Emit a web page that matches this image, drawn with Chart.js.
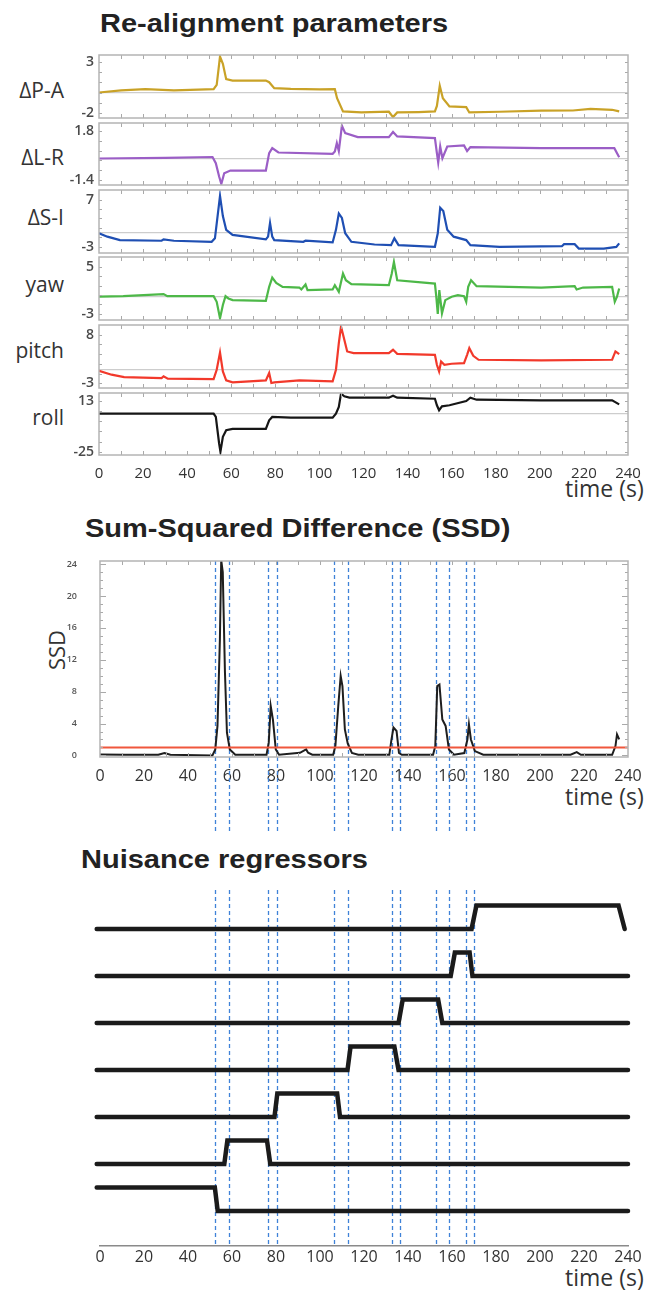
<!DOCTYPE html>
<html>
<head>
<meta charset="utf-8">
<script src="https://cdn.jsdelivr.net/npm/chart.js@4.4.1/dist/chart.umd.min.js"></script>
<style>
  body { margin: 0; background: #fff; }
  #page { position: relative; width: 655px; height: 1294px; overflow: hidden; background: #fff; font-family: 'Open Sans', sans-serif; color: #333; }
  canvas { position: absolute; left: 0; }
  .title { position: absolute; font-family: 'Liberation Sans', Arial, sans-serif; font-weight: bold; font-size: 25px; line-height: 1; color: #222; transform: scaleX(1.16); transform-origin: 0 0; white-space: nowrap; }
  .lbl { position: absolute; right: 591px; font-size: 21px; line-height: 1; color: #333; white-space: nowrap; }
  .time { position: absolute; left: 565px; font-size: 23px; line-height: 1; color: #333; white-space: nowrap; }
  .ylab { position: absolute; font-size: 22px; line-height: 1; color: #333; transform: translate(-50%, -50%) rotate(-90deg); white-space: nowrap; }
</style>
</head>
<body>
<div id="page">
  <div class="title" style="left:100px; top:11px;">Re-alignment parameters</div>
  <div class="lbl" style="top:80px;">ΔP-A</div>
  <div class="lbl" style="top:147px;">ΔL-R</div>
  <div class="lbl" style="top:207px;">ΔS-I</div>
  <div class="lbl" style="top:274px;">yaw</div>
  <div class="lbl" style="top:340px;">pitch</div>
  <div class="lbl" style="top:407px;">roll</div>
  <div class="time" style="top:477px;">time (s)</div>

  <div class="title" style="left:85px; top:516px;">Sum-Squared Difference (SSD)</div>
  <div class="ylab" style="left:56px; top:650px;">SSD</div>
  <div class="time" style="top:785px;">time (s)</div>

  <div class="title" style="left:81px; top:847px;">Nuisance regressors</div>
  <div class="time" style="top:1266px;">time (s)</div>
</div>
<script>
// time axis
const xTicks = [0, 20, 40, 60, 80, 100, 120, 140, 160, 180, 200, 220, 240];

// re-alignment parameters (time in s, value)
const tPA = [0,10,21,34,45,52,53.4,54.9,56.2,57.7,60.6,75.7,77.2,79.5,87,100,107,108,110.7,119,131.5,133.4,135.3,145,152.4,153.3,154.6,156,159,166.6,168,181.7,200.6,215,223,232.8,236];
const vPA = [0,0.2,0.32,0.2,0.28,0.32,0.74,3.5,2.8,1.3,1.16,1.16,1.0,0.42,0.35,0.3,0.32,-0.55,-1.84,-1.94,-1.87,-2.39,-1.94,-1.9,-1.84,-1.3,0.65,-0.55,-1.35,-1.42,-1.94,-1.87,-1.77,-1.75,-1.6,-1.68,-1.84];

const tLR = [0,30,51.5,53,54.5,55.5,56.8,59.6,75.7,77.2,78.6,81.4,106,107,107.9,108.8,110.2,111.7,117.4,131.5,133.4,135.3,152.4,153.3,153.9,154.8,155.8,158,165.6,167,168.5,200.6,233.8,236];
const vLR = [0,0.04,0.1,-0.31,-1.2,-1.69,-0.98,-0.8,-0.8,0.36,0.69,0.4,0.31,0.47,1.02,0.5,2.18,1.69,1.42,1.42,1.76,1.47,1.36,0.36,-0.27,0.8,0.02,0.8,0.87,0.5,0.76,0.69,0.69,0.09];

const tSI = [0,3.8,9.5,28.4,29.3,34,51.1,52.6,54.9,56.2,57.7,60.6,75.7,76.7,77.6,78.6,79.5,92.7,93.7,106,107.5,108.8,110.2,111.7,114.5,125,132.5,134,135.9,152.4,153.7,154.8,156.2,158,160.9,166.6,168.5,181.7,210,211,215.8,217.7,229,234.7,236];
const vSI = [-0.15,-0.87,-1.6,-1.74,-1.45,-1.74,-1.96,-1.23,7.8,3.5,0.58,-0.5,-1.45,-0.87,2.03,-0.87,-1.6,-1.96,-1.74,-2.1,0.58,4.06,3.1,-0.15,-1.96,-2.54,-2.68,-1.23,-2.68,-3.04,-0.15,5.29,4.57,0.58,-0.87,-1.6,-2.68,-3.04,-2.9,-2.46,-2.46,-3.4,-3.4,-3.04,-2.3];

const tYaw = [0,11,29.3,31,52,53.4,54.9,56.2,57.4,58.7,60.6,75.7,77.2,78.6,80.4,83.3,90.9,91.8,93.7,94.6,106,107,108.8,110.7,112,114.5,131.5,132.8,133.8,135.3,152.4,153,153.7,154.4,155.6,157.1,160,162.8,165.6,166.6,167.5,168.8,171.3,200.6,215.8,216.7,219.6,232.8,234,235,236];
const vYaw = [-0.1,0,0.34,0,0,-0.96,-3.77,-1.5,0,-0.4,-0.68,-0.79,1.58,3.15,2.25,1.58,1.46,1.13,1.97,1.01,1.13,1.86,0.73,3.83,2.7,2.03,1.86,3.8,5.8,2.7,2.14,0,-3.04,1.01,-2.93,-0.68,-0.1,0.17,0,-0.96,1.58,2.7,1.69,1.46,1.69,1.13,1.46,1.58,-0.96,-0.1,1.3];

const tPitch = [0,5.7,11.4,28.4,29.3,31.2,52,53.4,54.9,56.2,57.7,60.6,75.7,77.2,78.2,79.5,90.9,106,107.5,108.8,109.8,111.3,112.6,115.5,131.5,133.4,135.3,152.4,153.3,154.3,155.2,156.7,160,165.6,167,168,169.8,172.2,200.6,232.8,234.3,236];
const vPitch = [-0.15,-1.05,-1.58,-1.8,-1.4,-1.95,-2.03,0.07,3.98,-0.3,-2.33,-2.78,-2.33,-0.68,-2.93,-2.78,-2.33,-2.56,0.08,6.09,9.85,6.84,4.21,3.83,3.83,4.59,3.68,3.46,1.2,-0.3,1.95,1.2,1.43,1.58,3.46,4.96,3.23,2.33,2.18,2.33,4.21,3.6];

const tRoll = [0,52,53,54.5,55.1,56.2,57.7,60.6,75.7,77.2,78.6,87,106,107.5,108.8,109.8,111.3,113.6,131.5,133.4,135.3,152.4,153.3,154.3,155.6,159,166.6,168.5,171.3,200.6,232.8,236];
const vRoll = [3.5,3.5,1,-18.9,-25,-13.9,-8.9,-7.9,-7.9,-1.5,1,0.5,0.5,3.5,8.4,18.4,16.4,15.4,15.4,16.9,15.4,14.6,9.7,6,8.9,9.7,12.9,15.4,13.9,13.4,13.4,10.4];

// tick labels shown on each panel (min, max)
const tickPA = [-2, 3];
const tickLR = [-1.4, 1.8];
const tickSI = [-3, 7];
const tickYaw = [-3, 5];
const tickPitch = [-3, 8];
const tickRoll = [-25, 13];

// SSD
const tSSD = [0,11.4,26.5,29.3,32,51.1,52.4,53.4,54.5,55.1,55.8,56.8,57.7,59,61.5,75.7,76.7,77.6,78.6,79.9,81.4,90.9,93.7,94.6,96.5,106,107,108.3,109.4,110.2,111.3,112.6,114.5,117.4,131.5,132.5,133.4,134.8,135.9,137.2,151.4,152.4,153.3,154.3,155.6,157.1,158.6,160.9,165.6,167,167.7,168.6,170.4,174.2,213.9,216.7,218.6,232.8,234.3,235,236];
const vSSD = [0.1,0.08,0.08,0.3,0.08,0,0.75,3.7,14.6,24.5,23,10.4,2.85,0.75,0.08,0.08,1.6,6.2,4.5,0.75,0.08,0.33,0.75,0.33,0.08,0.08,1.2,6.2,9.97,8.7,3.27,1.5,0.3,0.08,0.08,2.0,3.5,3.06,0.3,0.08,0.08,1.17,8.7,8.9,4.5,3.7,0.75,0.08,0.3,2.0,3.9,2.0,0.54,0.08,0.08,0.42,0.08,0.08,1.17,2.64,2.0];
const ssdTicks = [0, 4, 8, 12, 16, 20, 24];
const ssdThreshold = 1;

// censored-interval edges (s)
const censorEdges = [52.4, 58.7, 76.3, 80.4, 106.4, 112.8, 132.5, 136.3, 152.8, 158.5, 166.2, 169.8];

// nuisance regressors: breakpoints (s) and levels (0/1), bottom to top
const reg1T = [-1.5, 52.2, 53.5, 240];                    const reg1V = [1, 1, 0, 0];
const reg2T = [-1.5, 56.5, 57.9, 75.9, 77.4, 240];        const reg2V = [0, 0, 1, 1, 0, 0];
const reg3T = [-1.5, 79.3, 80.6, 107.8, 109.1, 240];      const reg3V = [0, 0, 1, 1, 0, 0];
const reg4T = [-1.5, 112.5, 113.9, 133.8, 135.7, 240];    const reg4V = [0, 0, 1, 1, 0, 0];
const reg5T = [-1.5, 135.7, 137.6, 153.7, 155.6, 240];    const reg5V = [0, 0, 1, 1, 0, 0];
const reg6T = [-1.5, 159.4, 161.3, 168, 169.3, 240];      const reg6V = [0, 0, 1, 1, 0, 0];
const reg7T = [-1.5, 168.9, 171.1, 235.7, 238.5];         const reg7V = [0, 0, 1, 1, 0];

Chart.defaults.font.family = "'Open Sans', sans-serif";
Chart.defaults.devicePixelRatio = 1;

const page = document.getElementById('page');
const pts = (t, v, off) => t.map((x, k) => ({ x: x, y: v[k] + (off || 0) }));
const setX = s => { s.ticks = xTicks.map(v => ({ value: v })); };

// box + inward ticks
const frame = {
  id: 'frame',
  afterDatasetsDraw(chart, args, o) {
    if (!o.on) return;
    const { ctx, chartArea: a, scales: { x, y } } = chart;
    ctx.save();
    ctx.strokeStyle = '#a9a9a9';
    ctx.lineWidth = 1;
    ctx.beginPath();
    for (let t = 10; t < 240; t += 10) {
      const px = Math.round(x.getPixelForValue(t)) + 0.5;
      ctx.moveTo(px, a.top); ctx.lineTo(px, a.top + 4);
      ctx.moveTo(px, a.bottom); ctx.lineTo(px, a.bottom - 4);
    }
    o.yMarks.forEach(m => {
      const py = Math.round(y.getPixelForValue(m.v)) + 0.5;
      ctx.moveTo(a.left, py); ctx.lineTo(a.left + m.len, py);
      ctx.moveTo(a.right, py); ctx.lineTo(a.right - m.len, py);
    });
    ctx.stroke();
    ctx.strokeStyle = '#b4b4b4';
    ctx.lineWidth = 1.5;
    ctx.strokeRect(a.left, a.top, a.right - a.left, a.bottom - a.top);
    ctx.restore();
  }
};

// blue dashed censoring lines
const censor = {
  id: 'censor',
  beforeDatasetsDraw(chart, args, o) {
    if (!o.on) return;
    const { ctx, chartArea: a, scales: { x } } = chart;
    ctx.save();
    ctx.strokeStyle = '#3f82d8';
    ctx.lineWidth = 1.3;
    ctx.setLineDash([4, 3]);
    censorEdges.forEach(t => {
      const px = Math.round(x.getPixelForValue(t)) + 0.5;
      ctx.beginPath();
      ctx.moveTo(px, a.top);
      ctx.lineTo(px, o.bottom != null ? o.bottom : a.bottom);
      ctx.stroke();
    });
    ctx.restore();
  }
};

function addCanvas(top, h) {
  const cv = document.createElement('canvas');
  cv.width = 655; cv.height = h;
  cv.style.top = top + 'px';
  page.appendChild(cv);
  return cv;
}

// ---- re-alignment panels ----
const panels = [
  { t: tPA, v: vPA, ticks: tickPA, color: '#c9a227' },
  { t: tLR, v: vLR, ticks: tickLR, color: '#9b5ec6' },
  { t: tSI, v: vSI, ticks: tickSI, color: '#1f4fb3' },
  { t: tYaw, v: vYaw, ticks: tickYaw, color: '#4db848' },
  { t: tPitch, v: vPitch, ticks: tickPitch, color: '#f2392b' },
  { t: tRoll, v: vRoll, ticks: tickRoll, color: '#161616' }
];
const boxTop = [55, 123, 190, 257, 325, 393];
const boxBot = [118, 185, 253, 320, 388, 455];
const yRange = [[-2.48, 3.65], [-1.76, 2.36], [-4.35, 9.06], [-4.06, 6.65], [-4.06, 10.2], [-27.5, 18.9]];
const midLine = [0, 0, 0, 0, 0, 3.5];

panels.forEach((p, i) => {
  const last = i === panels.length - 1;
  const cv = addCanvas(boxTop[i] - 20, boxBot[i] - boxTop[i] + 20 + (last ? 40 : 20));
  const [lo, hi] = p.ticks;
  const mid = midLine[i];
  const marks = [];
  for (let k = 0; k <= 5; k++) marks.push({ v: lo + k * (hi - lo) / 5, len: 3 });
  new Chart(cv, {
    type: 'line',
    data: { datasets: [{ data: pts(p.t, p.v), borderColor: p.color, borderWidth: 2.2, pointRadius: 0, tension: 0 }] },
    options: {
      responsive: false, animation: false, events: [],
      layout: { padding: { top: 20, bottom: last ? 0 : 20, left: 0, right: 27 } },
      plugins: { legend: { display: false }, tooltip: { enabled: false }, frame: { on: true, yMarks: marks }, censor: { on: false } },
      scales: {
        x: {
          type: 'linear', min: 0, max: 240, display: last,
          afterBuildTicks: setX, afterFit: s => { s.height = last ? 40 : 0; },
          grid: { display: false }, border: { display: false },
          ticks: { color: '#333', font: { size: 15 }, padding: 2, maxRotation: 0, autoSkip: false }
        },
        y: {
          min: yRange[i][0], max: yRange[i][1],
          afterFit: s => { s.width = 99; },
          afterBuildTicks: s => { s.ticks = [lo, mid, hi].map(v => ({ value: v })); },
          grid: { drawTicks: false, lineWidth: 1.2, color: c => (c.tick && c.tick.value === mid) ? '#cdcdcd' : 'rgba(0,0,0,0)' },
          border: { display: false },
          ticks: { padding: 5, color: '#4a4a4a', font: { size: 14, weight: '600' }, autoSkip: false, callback: v => v === mid ? '' : String(v) }
        }
      }
    },
    plugins: [frame, censor]
  });
});

// ---- SSD ----
{
  const cv = addCanvas(540, 300);
  const marks = [];
  for (let v = 0; v <= 24; v++) marks.push({ v: v, len: v % 4 === 0 ? 6 : 3 });
  new Chart(cv, {
    type: 'line',
    data: {
      datasets: [
        { data: [{ x: 0, y: ssdThreshold }, { x: 240, y: ssdThreshold }], borderColor: '#f0573c', borderWidth: 2, pointRadius: 0 },
        { data: pts(tSSD, vSSD), borderColor: '#1e1e1e', borderWidth: 2, pointRadius: 0, tension: 0 }
      ]
    },
    options: {
      responsive: false, animation: false, events: [],
      layout: { padding: { top: 21, bottom: 0, left: 0, right: 27 } },
      plugins: { legend: { display: false }, tooltip: { enabled: false }, frame: { on: true, yMarks: marks }, censor: { on: true, bottom: 292 } },
      scales: {
        x: {
          type: 'linear', min: 0, max: 240,
          afterBuildTicks: setX, afterFit: s => { s.height = 83; },
          grid: { display: false }, border: { display: false },
          ticks: { color: '#333', font: { size: 16 }, padding: 2, maxRotation: 0, autoSkip: false }
        },
        y: {
          min: -0.2, max: 24.4,
          afterFit: s => { s.width = 100; },
          afterBuildTicks: s => { s.ticks = ssdTicks.map(v => ({ value: v })); },
          grid: { display: false }, border: { display: false },
          ticks: { padding: 15, color: '#555', font: { size: 9, weight: '600' }, autoSkip: false }
        }
      }
    },
    plugins: [frame, censor]
  });
}

// ---- nuisance regressors ----
{
  const cv = addCanvas(880, 400);
  const regs = [[reg1T, reg1V], [reg2T, reg2V], [reg3T, reg3V], [reg4T, reg4V], [reg5T, reg5V], [reg6T, reg6V], [reg7T, reg7V]];
  new Chart(cv, {
    type: 'line',
    data: {
      datasets: regs.map((r, k) => ({
        data: pts(r[0], r[1], 2 * k),
        borderColor: '#1b1b1b', borderWidth: 4.5, pointRadius: 0, tension: 0,
        borderCapStyle: 'round', clip: false
      }))
    },
    options: {
      responsive: false, animation: false, events: [],
      layout: { padding: { top: 10, bottom: 0, left: 100, right: 27 } },
      plugins: { legend: { display: false }, tooltip: { enabled: false }, frame: { on: false }, censor: { on: true } },
      scales: {
        x: {
          type: 'linear', min: 0, max: 240,
          afterBuildTicks: setX, afterFit: s => { s.height = 34; },
          grid: { display: true, drawTicks: false, color: 'rgba(0,0,0,0)' },
          border: { display: true, color: '#8a8a8a', width: 1.5 },
          ticks: { color: '#333', font: { size: 16 }, padding: 2, maxRotation: 0, autoSkip: false }
        },
        y: { display: false, min: -1.49, max: 13.66 }
      }
    },
    plugins: [frame, censor]
  });
}
</script>
</body>
</html>
